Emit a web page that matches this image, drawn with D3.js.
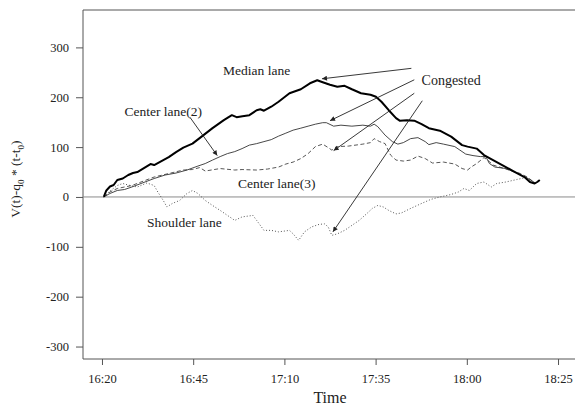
<!DOCTYPE html>
<html>
<head>
<meta charset="utf-8">
<script src="https://cdn.jsdelivr.net/npm/d3@7"></script>
<style>
  html, body { margin: 0; padding: 0; background: #fff; }
  svg { display: block; font-family: "Liberation Serif", "Times New Roman", serif; }
</style>
</head>
<body>
<svg id="chart" width="575" height="406"></svg>
<script>
// ---- data (x = minutes after 16:20, y = V(t) - q0*(t - t0)) ----
const xTickValues = [0, 25, 50, 75, 100, 125];
const xTickLabels = ["16:20", "16:45", "17:10", "17:35", "18:00", "18:25"];
const yTickValues = [-300, -200, -100, 0, 100, 200, 300];

const medianMin = [0.5,1.2,2.2,3.2,4.2,5.7,7.2,8.5,9.7,11.5,13.3,14.3,16.3,18.3,20.3,22.3,24.8,27.3,30.3,33.4,35.6,36.9,38.5,40.4,42.4,43.4,44.4,46.4,48.4,51.4,54.5,57.0,59.0,60.5,62.5,64.5,66.5,68.5,71.0,73.6,75.1,76.6,78.6,80.6,81.6,83.6,85.6,87.6,89.6,92.6,95.7,98.7,100.2,102.7,104.7,107.2,109.7,112.7,115.8,117.3,118.6,119.3,120.0];
const medianVal = [0,13,21,24,34,37,44,48,50,58,66,64,72,80,90,99,107,121,138,154,164,160,162,164,174,176,173,181,191,208,216,228,234,230,225,221,223,216,208,205,201,191,174,158,153,154,153,146,138,133,121,104,101,97,84,74,64,52,40,30,27,30,34];

const center2Min = [0.5,2.2,4.2,6.2,8.2,10.7,14.3,17.3,20.3,23.3,26.3,28.3,30.3,32.4,34.4,36.4,38.4,40.4,42.4,44.4,46.4,48.4,50.4,52.4,54.5,56.5,58.5,60.5,61.5,63.5,65.5,68.5,71.5,73.6,74.6,75.6,77.6,79.6,81.1,82.6,84.6,86.6,88.6,89.6,91.6,93.6,96.7,99.7,101.7,103.7,105.2,106.2,107.7,110.7,113.7,116.8,118.8];
const center2Val = [0,7,13,15,20,27,37,44,48,54,62,67,74,81,87,91,97,104,107,111,115,122,128,134,138,142,146,149,149,142,144,142,144,142,146,141,124,111,106,109,117,119,111,105,109,106,101,86,83,81,81,67,60,57,48,37,28];

const center3Min = [0.5,2.2,4.2,6.2,8.2,10.7,14.3,18.3,22.3,24.8,26.8,28.3,32.4,36.4,38.4,42.4,45.4,48.4,50.4,52.4,54.5,56.5,58.5,60.5,62.0,63.0,64.5,67.5,71.5,73.6,74.6,76.1,77.6,79.1,80.6,82.6,84.6,86.6,88.6,90.6,93.6,96.7,98.7,100.2,101.2,102.7,104.7,105.7,107.2,110.7,114.7,116.8,118.3];
const center3Val = [0,10,17,20,23,30,40,47,54,55,59,52,57,54,55,54,56,60,66,70,77,87,101,106,99,94,101,102,106,109,117,111,107,84,74,72,74,82,77,68,70,66,57,54,60,67,79,74,64,56,47,39,30];

const shoulderMin = [0.5,2.2,4.2,5.7,7.7,9.7,12.3,14.3,15.3,16.8,17.8,19.3,21.3,23.3,24.8,26.3,28.3,30.3,32.4,34.4,36.4,38.4,41.4,42.4,44.4,46.4,48.4,51.4,52.4,53.9,55.5,57.5,59.5,61.0,62.0,63.0,64.5,66.5,68.5,70.5,72.5,74.1,75.6,77.1,78.6,80.6,82.1,84.6,87.6,90.1,92.6,95.7,97.7,99.2,100.7,102.7,104.7,106.7,108.2,110.7,113.7,116.8];
const shoulderVal = [0,12,23,27,23,20,28,23,10,-7,-20,-13,-7,7,13,7,-7,-17,-27,-37,-47,-40,-37,-47,-67,-67,-70,-67,-74,-87,-70,-60,-55,-54,-60,-77,-74,-67,-57,-47,-34,-23,-17,-20,-27,-34,-32,-23,-13,-5,0,5,10,17,13,27,30,20,27,30,35,40];

// annotations (data coordinates)
const labelText = ["Median lane", "Congested", "Center lane(2)", "Center lane(3)", "Shoulder lane"];
const labelX = [42.4, 95.7, 16.8, 47.9, 22.6];
const labelY = [254, 235, 172, 28, -50];

const arrowFromX = [84.8, 85.6, 85.6, 87.8, 24.1];
const arrowFromY = [258, 235, 208, 193, 160];
const arrowToX = [60.3, 62.5, 63.5, 63.3, 31.6];
const arrowToY = [237, 153, 93, -70, 83];

// ---- layout ----
const svg = d3.select("#chart");
const pLeft = 83, pTop = 10, pBottom = 359, pRight = 577;

const x = d3.scaleLinear().domain([-5.2, 130.2]).range([pLeft, pRight]);
const y = d3.scaleLinear().domain([-325, 375]).range([pBottom, pTop]);

const frameColor = "#555";

// defs: arrow head
svg.append("defs").append("marker")
  .attr("id", "ah")
  .attr("viewBox", "0 0 10 10")
  .attr("refX", 10).attr("refY", 5)
  .attr("markerWidth", 7).attr("markerHeight", 5)
  .attr("markerUnits", "userSpaceOnUse")
  .attr("orient", "auto")
  .append("path").attr("d", "M0,0 L10,5 L0,10 z").attr("fill", "#222");

// frame (top + left + bottom)
svg.append("path")
  .attr("d", `M${pRight},${pTop} L${pLeft},${pTop} L${pLeft},${pBottom} L${pRight},${pBottom}`)
  .attr("fill", "none").attr("stroke", frameColor).attr("stroke-width", 1);

// zero line
svg.append("line")
  .attr("x1", pLeft).attr("x2", pRight)
  .attr("y1", y(0)).attr("y2", y(0))
  .attr("stroke", "#8a8a8a").attr("stroke-width", 1);

// y axis
const yAxis = d3.axisLeft(y).tickValues(yTickValues).tickSize(7).tickPadding(7)
  .tickFormat(d => d < 0 ? "-" + Math.abs(d) : String(d));
const gy = svg.append("g").attr("transform", `translate(${pLeft},0)`).call(yAxis);
gy.select(".domain").remove();
gy.selectAll("line").attr("stroke", frameColor);
gy.selectAll("text").attr("font-family", "Liberation Serif, serif").attr("font-size", 12.5).attr("fill", "#222");

// x axis
const xAxis = d3.axisBottom(x).tickValues(xTickValues).tickSize(6).tickPadding(9)
  .tickFormat((d, i) => xTickLabels[i]);
const gx = svg.append("g").attr("transform", `translate(0,${pBottom})`).call(xAxis);
gx.select(".domain").remove();
gx.selectAll("line").attr("stroke", frameColor);
gx.selectAll("text").attr("font-family", "Liberation Serif, serif").attr("font-size", 12.5).attr("fill", "#222");

// axis titles
svg.append("text")
  .attr("x", x(62.5)).attr("y", 403)
  .attr("text-anchor", "middle")
  .attr("font-size", 16).attr("fill", "#222")
  .text("Time");

const yt = svg.append("text")
  .attr("transform", `translate(20,179) rotate(-90)`)
  .attr("text-anchor", "middle")
  .attr("font-size", 13.5).attr("fill", "#222");
yt.append("tspan").text("V(t)-q");
yt.append("tspan").attr("font-size", 9).attr("dy", 3.5).text("0");
yt.append("tspan").attr("dy", -3.5).text(" * (t-t");
yt.append("tspan").attr("font-size", 9).attr("dy", 3.5).text("0");
yt.append("tspan").attr("dy", -3.5).text(")");

// series
const line = d3.line().x(d => x(d[0])).y(d => y(d[1]));
const series = [
  { mins: shoulderMin, vals: shoulderVal, stroke: "#555", width: 1, dash: "1,2" },
  { mins: center3Min, vals: center3Val, stroke: "#444", width: 0.9, dash: "4,2.5" },
  { mins: center2Min, vals: center2Val, stroke: "#333", width: 0.9, dash: null },
  { mins: medianMin, vals: medianVal, stroke: "#000", width: 2, dash: null }
];
series.forEach(s => {
  svg.append("path")
    .datum(s.mins.map((m, i) => [m, s.vals[i]]))
    .attr("d", line)
    .attr("fill", "none")
    .attr("stroke", s.stroke)
    .attr("stroke-width", s.width)
    .attr("stroke-linejoin", "round")
    .attr("stroke-dasharray", s.dash);
});

// arrows
arrowFromX.forEach((fx, i) => {
  svg.append("line")
    .attr("x1", x(fx)).attr("y1", y(arrowFromY[i]))
    .attr("x2", x(arrowToX[i])).attr("y2", y(arrowToY[i]))
    .attr("stroke", "#222").attr("stroke-width", 0.9)
    .attr("marker-end", "url(#ah)");
});

// labels
labelText.forEach((t, i) => {
  svg.append("text")
    .attr("x", x(labelX[i])).attr("y", y(labelY[i]))
    .attr("dy", "0.35em")
    .attr("text-anchor", "middle")
    .attr("font-size", i === 1 ? 14 : 13.5)
    .attr("fill", "#222")
    .attr("xml:space", "preserve")
    .text(t);
});
</script>
</body>
</html>
